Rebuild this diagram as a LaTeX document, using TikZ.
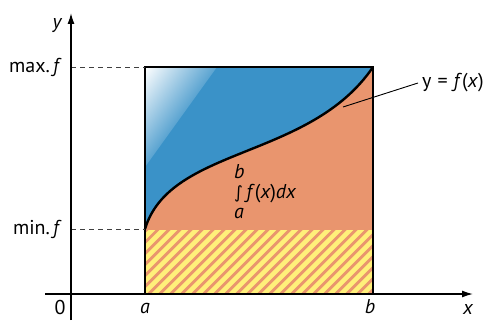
\documentclass[tikz,border=0pt]{standalone}
\usepackage{fontspec}
\setmainfont{PT Sans}
\newfontfamily\symfont{DejaVu Sans}
\usetikzlibrary{arrows.meta}
\definecolor{areablue}{RGB}{58,146,200}
\definecolor{areaorange}{RGB}{233,149,110}
\definecolor{hatchyellow}{RGB}{255,240,122}
\tikzset{
  axisline/.style={-{Latex[length=11pt,width=7pt]},line width=1.4pt},
  boxline/.style={line width=2.4pt,line join=miter},
  curveline/.style={line width=2.4pt},
  guide/.style={dash pattern=on 5pt off 4pt,line width=0.8pt,draw=black!75},
  leader/.style={line width=0.9pt},
  hatchline/.style={line width=4.6pt,draw=hatchyellow},
  axlabel/.style={font=\fontsize{20}{20}\selectfont\itshape,inner sep=1pt},
  ticklabel/.style={font=\fontsize{20}{20}\selectfont,inner sep=1pt}
}

\begin{document}
\begin{tikzpicture}[x=1pt,y=1pt]
  \useasboundingbox (-71,-27) rectangle (426,294);
  % areas
  \fill[areaorange] (74,0) rectangle (302,227);
  \fill[areablue] (74,65) .. controls (99,148) and (239,134) .. (302,227) -- (74,227) -- cycle;
  \begin{scope}
    \clip (74,227) -- (146,227) -- (74,127) -- cycle;
    \shade[left color=white,right color=areablue!85!white,
      transform canvas={rotate around={-35.8:(74,227)}}] (74,147) rectangle (133,307);
  \end{scope}
  \begin{scope}
    \clip (74,0) rectangle (302,64);
    \fill[areaorange] (74,0) rectangle (302,64);
    \foreach \k in {-4,7,...,300}
      \draw[hatchline] (\k,-10) -- ++(90,90);
  \end{scope}
  % points
  \coordinate (ya) at (0,227);
  \coordinate (yb) at (0,65);
  \coordinate (tl) at (74,227);
  \coordinate (ml) at (74,65);
  \coordinate (fpt) at (272,187);
  % outline and curve
  \draw[boxline] (74,0) rectangle (302,227);
  \draw[curveline] (ml) .. controls (99,148) and (239,134) .. (302,227);
  \draw[guide] (ya) -- (tl);
  \draw[guide] (yb) -- (ml);
  % axes
  \coordinate (xs) at (-26,0);
  \coordinate (xe) at (402,0);
  \coordinate (ys) at (0,-26);
  \coordinate (ye) at (0,281);
  \draw[axisline] (xs) -- (xe);
  \draw[axisline] (ys) -- (ye);
  % labels
  \node[axlabel] (xlab) at (397,-15) {x};
  \node[axlabel] (ylab) at (-14,268) {y};
  \node[ticklabel] (zero) at (-11,-13) {0};
  \node[axlabel] (alab) at (74,-14) {a};
  \node[axlabel] (blab) at (299,-13) {b};
  \node[ticklabel,anchor=east] (maxf) at (-8,227) {max.\,\textit{f}};
  \node[ticklabel,anchor=east] (minf) at (-8,65) {min.\,\textit{f}};
  \node[ticklabel,anchor=west,inner sep=4pt] (flab) at (347,211)
    {y\hspace{6pt}=\hspace{6pt}\textit{f\/}(\textit{x})};
  \node[axlabel,anchor=west,align=left,font=\fontsize{20}{20}\selectfont\itshape] (integ) at (162,102)
    {b\\{\upshape\symfont\fontsize{17}{17}\selectfont ∫}\,f\/{\upshape(}x{\upshape)}dx\\a};
  \draw[leader] (fpt) -- (flab.west);
\end{tikzpicture}
\end{document}
